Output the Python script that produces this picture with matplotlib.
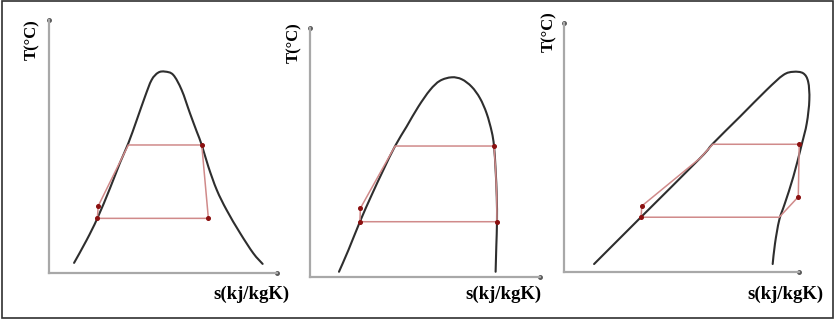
import matplotlib
matplotlib.use("Agg")
import matplotlib.pyplot as plt
from matplotlib.patches import Rectangle, PathPatch
from matplotlib.path import Path

# Diyagram verileri (s ve T, eksen uzunluğuna göre 0-100 keyfi birim)
# 1) Islak akışkan
dome1_s = [11.0, 16.5, 21.2, 26.8, 31.1, 34.8, 38.5, 42.1, 45.0, 47.9, 50.9,
           54.5, 58.2, 61.8, 64.8, 67.0, 69.9, 73.6, 77.9, 83.8, 89.6, 93.7]
dome1_T = [4.0, 13.0, 21.6, 33.6, 43.5, 51.3, 60.5, 69.7, 76.3, 79.2, 79.6,
           78.3, 72.3, 63.2, 55.9, 50.6, 42.0, 32.8, 24.9, 15.8, 7.8, 3.6]
cycle1_s = [21.2, 21.6, 34.8, 67.0, 69.9, 21.2]
cycle1_T = [21.6, 26.5, 50.6, 50.6, 21.6, 21.6]
dots1_s = [21.6, 21.2, 67.0, 69.9]
dots1_T = [26.5, 21.6, 50.6, 21.6]

# 2) İzentropik akışkan
dome2_s = [12.6, 16.7, 21.7, 26.8, 31.9, 37.0, 42.0, 47.1, 52.2, 56.5, 61.6, 66.0,
           70.3, 73.9, 76.8, 79.0, 80.0, 80.7, 81.2, 81.3, 81.0, 80.7]
dome2_T = [2.1, 10.8, 22.2, 32.9, 43.0, 52.6, 60.4, 68.4, 75.1, 78.8, 80.2, 79.4,
           76.4, 71.8, 65.7, 58.4, 52.6, 43.0, 32.2, 22.2, 12.2, 2.1]
cycle2_s = [21.7, 21.9, 37.0, 80.0, 80.7, 81.2, 81.3, 21.7]
cycle2_T = [22.2, 27.6, 52.6, 52.6, 43.0, 32.2, 22.2, 22.2]
dots2_s = [21.9, 21.7, 80.0, 81.3]
dots2_T = [27.6, 22.2, 52.6, 22.2]

# 3) Kuru akışkan
dome3_s = [12.8, 32.3, 57.9, 63.5, 74.9, 86.2, 93.3, 97.6, 101.8, 103.9, 104.4,
           103.3, 101.1, 97.6, 94.0, 91.6, 89.8, 88.8]
dome3_T = [3.2, 21.6, 45.7, 51.7, 62.4, 73.1, 79.1, 80.4, 79.8, 76.4, 69.1,
           59.7, 51.0, 38.3, 27.6, 20.9, 11.5, 3.2]
cycle3_s = [32.8, 33.1, 57.9, 63.3, 100.1, 99.7, 91.6, 32.8]
cycle3_T = [22.0, 26.5, 45.7, 51.3, 51.3, 30.2, 22.0, 22.0]
dots3_s = [33.1, 32.8, 100.1, 99.7]
dots3_T = [26.5, 22.0, 51.3, 30.2]

panels = [
    (dome1_s, dome1_T, cycle1_s, cycle1_T, dots1_s, dots1_T),
    (dome2_s, dome2_T, cycle2_s, cycle2_T, dots2_s, dots2_T),
    (dome3_s, dome3_T, cycle3_s, cycle3_T, dots3_s, dots3_T),
]

W, H = 836, 322
# eksen kutuları (piksel): sol, alt çizgi y, uzunluk, yükseklik
boxes = [(49, 273, 228, 253), (310, 277, 230, 249), (564, 272, 235, 249)]
t_labels = [(32, 40), (294, 43), (549, 32)]
s_labels = [(251, 294), (503, 294), (785, 294)]


def smooth_path(xs, ys):
    # noktalardan geçen yumuşak eğri (Catmull-Rom -> Bezier)
    pts = list(zip(xs, ys))
    pts = [pts[0]] + pts + [pts[-1]]
    verts = [pts[1]]
    codes = [Path.MOVETO]
    for i in range(1, len(pts) - 2):
        p0, p1, p2, p3 = pts[i - 1], pts[i], pts[i + 1], pts[i + 2]
        c1 = (p1[0] + (p2[0] - p0[0]) / 6, p1[1] + (p2[1] - p0[1]) / 6)
        c2 = (p2[0] - (p3[0] - p1[0]) / 6, p2[1] - (p3[1] - p1[1]) / 6)
        verts += [c1, c2, p2]
        codes += [Path.CURVE4] * 3
    return Path(verts, codes)


fig = plt.figure(figsize=(W / 100, H / 100), dpi=100)
fig.patch.set_facecolor("white")

axis_col = "#a8a8a8"
for (ds, dT, cs, cT, ps, pT), (x0, y0, L, Hh) in zip(panels, boxes):
    ax = fig.add_axes([x0 / W, (H - y0) / H, L / W, Hh / H])
    ax.set_xlim(0, 100)
    ax.set_ylim(0, 100)
    ax.patch.set_alpha(0)
    for side in ["top", "right"]:
        ax.spines[side].set_visible(False)
    for side in ["left", "bottom"]:
        ax.spines[side].set_color(axis_col)
        ax.spines[side].set_linewidth(1.6)
    ax.set_xticks([])
    ax.set_yticks([])
    ax.plot([0, 100], [100, 0], "o", ls="none", color="#555555", ms=2.5, clip_on=False)
    ax.add_patch(PathPatch(smooth_path(ds, dT), fill=False, edgecolor="#2e2e2e",
                           lw=1.5, capstyle="round", clip_on=False))
    ax.plot(cs, cT, color="#d08a8a", lw=1.1, clip_on=False)
    ax.plot(ps, pT, "o", color="#8b1010", ms=2.6, clip_on=False)

for x, y in t_labels:
    fig.text(x / W, 1 - y / H, "T(°C)", rotation=90, ha="center", va="center",
             family="Liberation Serif", weight="bold", fontsize=12)
for x, y in s_labels:
    fig.text(x / W, 1 - y / H, "s(kj/kgK)", ha="center", va="center",
             family="Liberation Serif", weight="bold", fontsize=13.5)

fig.patches.append(Rectangle((2 / W, 4 / H), 831 / W, 317 / H, transform=fig.transFigure,
                             fill=False, edgecolor="#303030", lw=1.2))

fig.savefig("out.png", dpi=100)
